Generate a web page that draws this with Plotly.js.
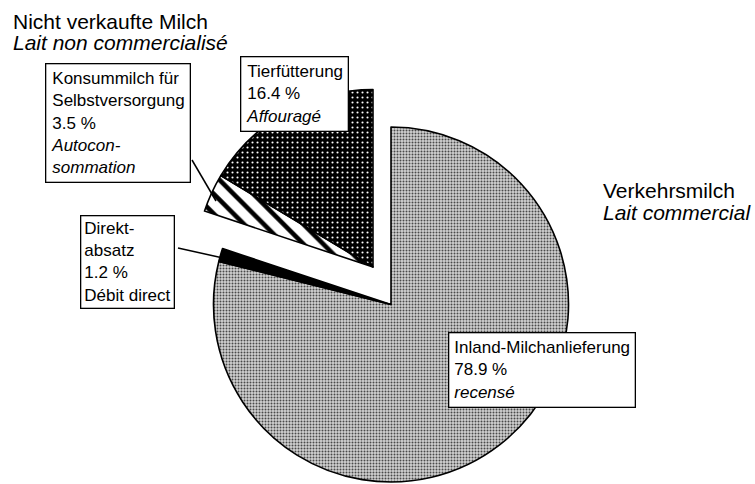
<!DOCTYPE html>
<html><head><meta charset="utf-8">
<script src="https://cdn.plot.ly/plotly-3.0.1.min.js"></script>
<style>html,body{margin:0;padding:0;background:#fff}</style>
</head><body><div id="chart" style="width:755px;height:484px"></div>
<script>
// ---- data ----
const sliceNamesDE = ['Inland-Milchanlieferung', 'Direkt-<br>absatz', 'Konsummilch für<br>Selbstversorgung', 'Tierfütterung'];
const sliceNamesFR = ['recensé', 'Débit direct', 'Autocon-<br>sommation', 'Affouragé'];
const shares = [78.9, 1.2, 3.5, 16.4];
const commercial = [true, true, false, false];
const groupDE = ['Verkehrsmilch', 'Nicht verkaufte Milch'];
const groupFR = ['Lait commercial', 'Lait non commercialisé'];

// ---- styles ----
const W = 755, H = 484;
const FONT = 'Liberation Sans, Arial, Helvetica, sans-serif';
const fills = ['#c4c4c4', '#000000', '#ffffff', '#000000'];
const patShape = ['.', '', '\\', '.'];
const patFg = ['#4a4a4a', '#000000', '#000000', '#ffffff'];
const patBg = ['#d2d2d2', '#000000', '#ffffff', '#000000'];
const patSize = [3, 8, 14, 5];
const patSolid = [0.35, 0.3, 0.33, 0.14];
const fr = [true, false, true, true];

const px = x => x / W;
const py = y => 1 - y / H;

function makePie(mask, dom) {
  return {
    type: 'pie', values: shares,
    labels: sliceNamesDE.map(s => s.replace('<br>', ' ')),
    sort: false, direction: 'clockwise', rotation: 0,
    textinfo: 'none', hoverinfo: 'none', showlegend: false,
    domain: dom,
    marker: {
      colors: fills.map((c, i) => mask[i] ? c : 'rgba(0,0,0,0)'),
      line: {color: '#000', width: mask.map(v => v ? 1.6 : 0)},
      pattern: {
        shape: patShape.map((s, i) => mask[i] ? s : ''),
        fgcolor: patFg, bgcolor: patBg, size: patSize, solidity: patSolid,
        fillmode: 'replace'
      }
    }
  };
}

const mainPie = makePie(commercial, {x: [px(213.5), px(568.5)], y: [py(482), py(127)]});
const pulledPie = makePie(commercial.map(v => !v), {x: [px(195.5), px(550.5)], y: [py(444.5), py(89.5)]});

function boxText(i) {
  const f = fr[i] ? '<i>' + sliceNamesFR[i] + '</i>' : sliceNamesFR[i];
  return sliceNamesDE[i] + '<br>' + shares[i].toFixed(1) + ' %<br>' + f;
}
const boxPos = [[448, 332], [80, 215], [45, 63], [240, 56]];

const annotations = [];
boxPos.forEach((p, i) => {
  annotations.push({
    xref: 'paper', yref: 'paper', x: px(p[0]), y: py(p[1]),
    xanchor: 'left', yanchor: 'top', showarrow: false, align: 'left',
    text: boxText(i), font: {family: FONT, size: 17, color: '#000'},
    bgcolor: '#fff', bordercolor: '#000', borderwidth: 1.3, borderpad: i === 1 ? 3 : 5
  });
});
const headPos = [[602, 190, 212], [12, 21, 43]];
headPos.forEach((p, g) => {
  annotations.push({xref: 'paper', yref: 'paper', x: px(p[0]), y: py(p[1]), xanchor: 'left', yanchor: 'middle',
    showarrow: false, text: groupDE[g], font: {family: FONT, size: 21, color: '#000'}, borderpad: 0});
  annotations.push({xref: 'paper', yref: 'paper', x: px(p[0]), y: py(p[2]), xanchor: 'left', yanchor: 'middle',
    showarrow: false, text: '<i>' + groupFR[g] + '</i>', font: {family: FONT, size: 21, color: '#000'}, borderpad: 0});
});

const leaders = [[192, 160, 216, 201], [178, 248, 223, 258]];
const shapes = leaders.map(l => ({
  type: 'line', xref: 'paper', yref: 'paper',
  x0: px(l[0]), y0: py(l[1]), x1: px(l[2]), y1: py(l[3]),
  line: {color: '#000', width: 1.5}
}));

const layout = {
  width: W, height: H, margin: {l: 0, r: 0, t: 0, b: 0},
  paper_bgcolor: '#fff', plot_bgcolor: '#fff', showlegend: false,
  font: {family: FONT, color: '#000'},
  annotations: annotations, shapes: shapes
};
Plotly.newPlot('chart', [mainPie, pulledPie], layout, {staticPlot: true, displayModeBar: false});
</script></body></html>
